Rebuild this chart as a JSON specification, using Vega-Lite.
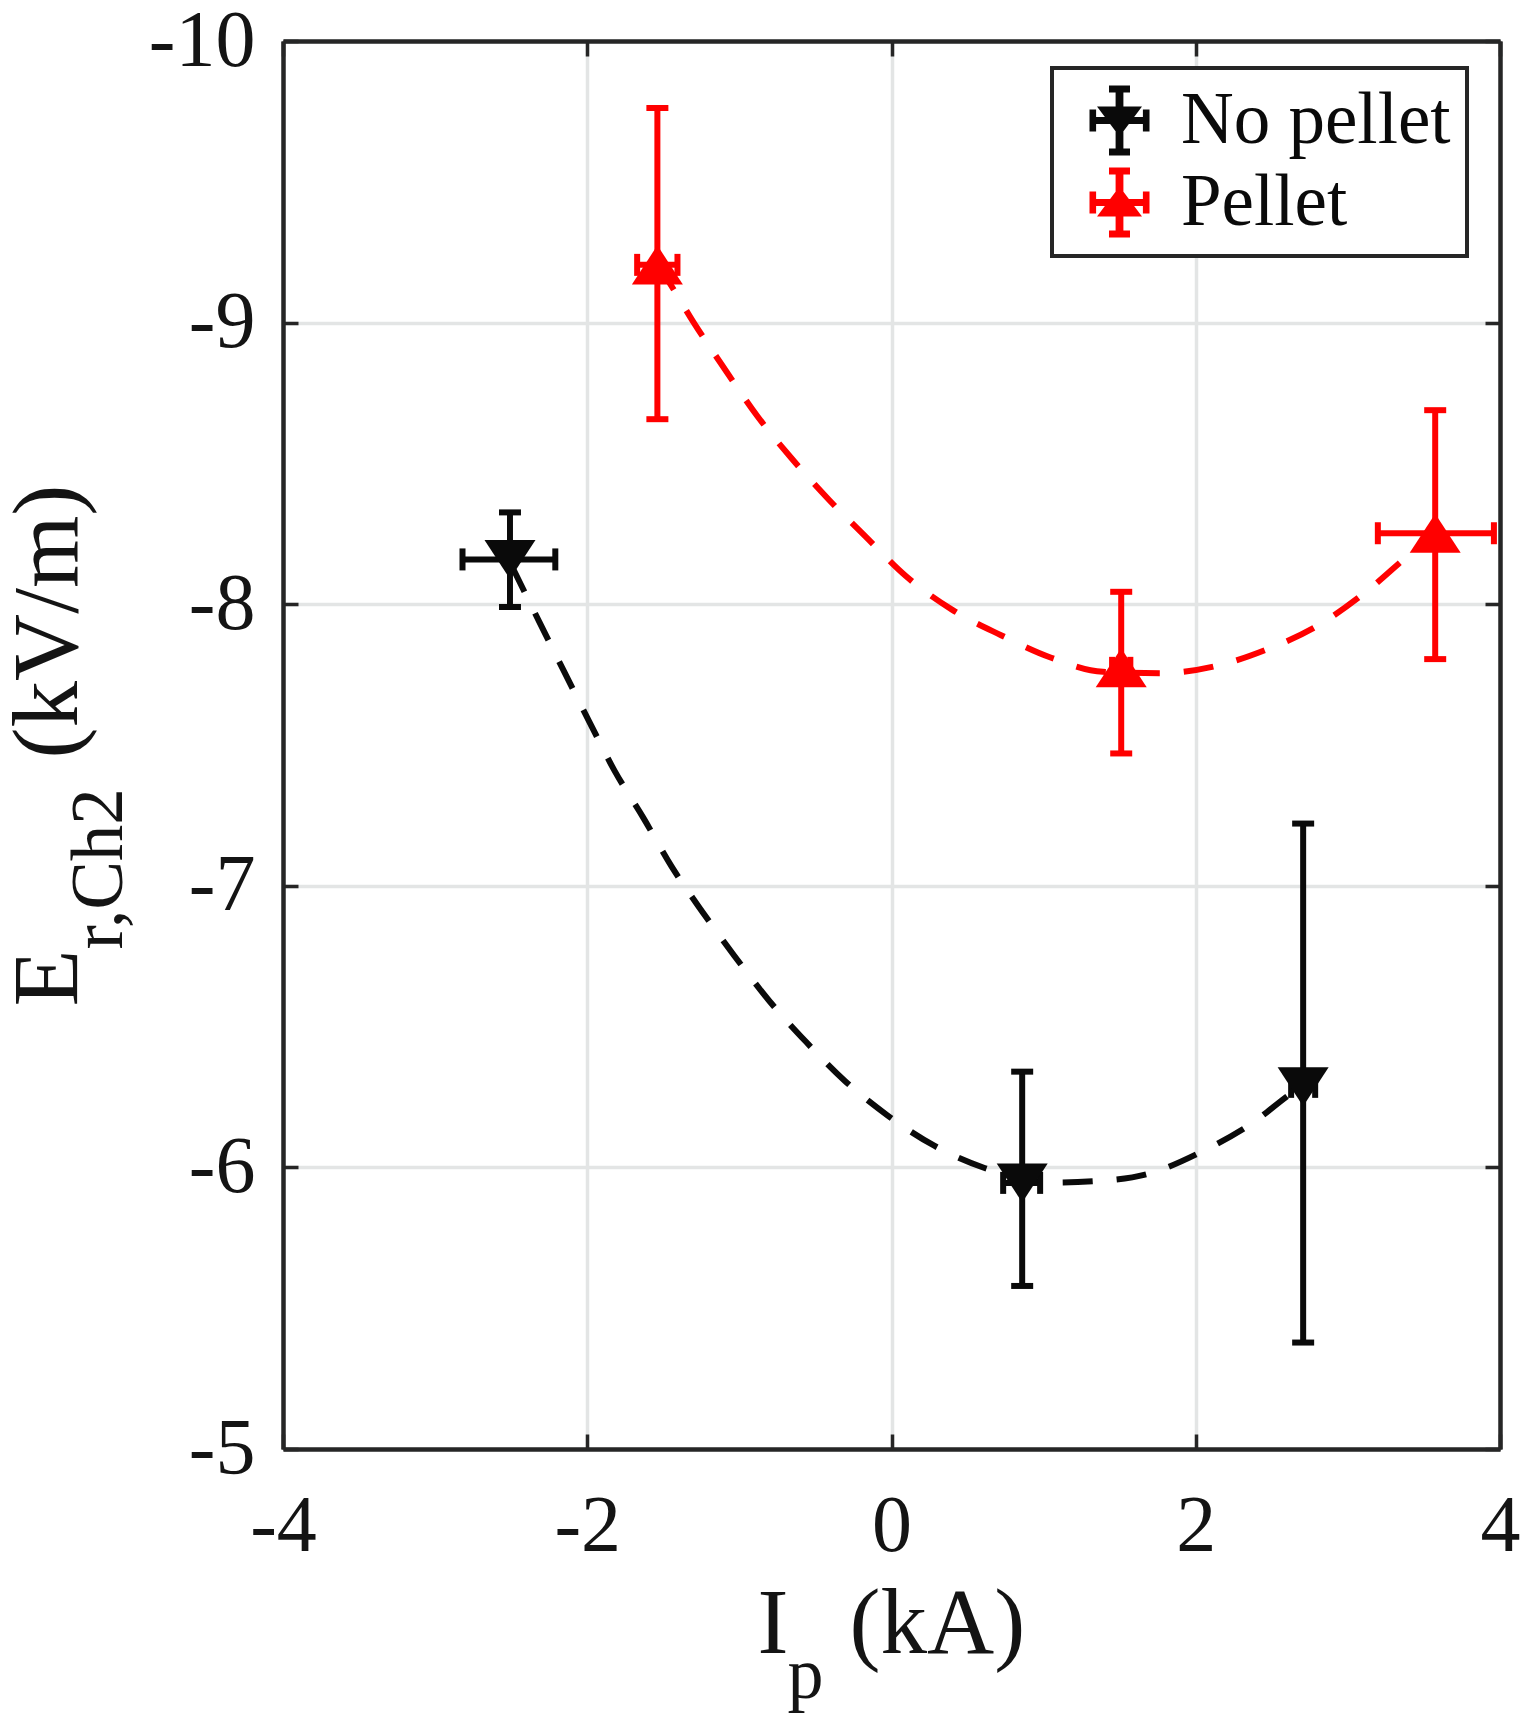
{
  "$schema": "https://vega.github.io/schema/vega-lite/v6.json",
  "width": 1217,
  "height": 1408,
  "autosize": {"type": "none"},
  "padding": {"left": 283, "top": 41, "right": 22, "bottom": 271},
  "background": "white",
  "datasets": {
    "points": [
      {"series": "No pellet", "x": -2.508, "y": -8.159, "xlo": -2.82, "xhi": -2.21, "ylo": -8.326, "yhi": -7.99},
      {"series": "No pellet", "x": 0.859, "y": -5.945, "xlo": 0.734, "xhi": 0.977, "ylo": -6.34, "yhi": -5.579},
      {"series": "No pellet", "x": 2.706, "y": -6.286, "xlo": 2.627, "xhi": 2.785, "ylo": -7.221, "yhi": -5.378},
      {"series": "Pellet", "x": -1.539, "y": -9.205, "xlo": -1.672, "xhi": -1.407, "ylo": -9.762, "yhi": -8.657},
      {"series": "Pellet", "x": 1.51, "y": -7.774, "xlo": 1.45, "xhi": 1.57, "ylo": -8.044, "yhi": -7.47},
      {"series": "Pellet", "x": 3.574, "y": -8.252, "xlo": 3.197, "xhi": 3.96, "ylo": -8.689, "yhi": -7.805}
    ],
    "fits": [
      {"series": "No pellet", "x": -2.5, "y": -8.14},
      {"series": "No pellet", "x": -2.316, "y": -7.938},
      {"series": "No pellet", "x": -2.155, "y": -7.764},
      {"series": "No pellet", "x": -1.987, "y": -7.583},
      {"series": "No pellet", "x": -1.821, "y": -7.409},
      {"series": "No pellet", "x": -1.633, "y": -7.243},
      {"series": "No pellet", "x": -1.446, "y": -7.069},
      {"series": "No pellet", "x": -1.245, "y": -6.909},
      {"series": "No pellet", "x": -1.031, "y": -6.75},
      {"series": "No pellet", "x": -0.803, "y": -6.591},
      {"series": "No pellet", "x": -0.562, "y": -6.446},
      {"series": "No pellet", "x": -0.308, "y": -6.308},
      {"series": "No pellet", "x": -0.027, "y": -6.185},
      {"series": "No pellet", "x": 0.281, "y": -6.077},
      {"series": "No pellet", "x": 0.616, "y": -5.997},
      {"series": "No pellet", "x": 1.044, "y": -5.946},
      {"series": "No pellet", "x": 1.339, "y": -5.951},
      {"series": "No pellet", "x": 1.692, "y": -5.978},
      {"series": "No pellet", "x": 2.043, "y": -6.057},
      {"series": "No pellet", "x": 2.363, "y": -6.154},
      {"series": "No pellet", "x": 2.65, "y": -6.271},
      {"series": "No pellet", "x": 2.706, "y": -6.29},
      {"series": "Pellet", "x": -1.539, "y": -9.205},
      {"series": "Pellet", "x": -1.47, "y": -9.15},
      {"series": "Pellet", "x": -1.3, "y": -9.0},
      {"series": "Pellet", "x": -1.09, "y": -8.83},
      {"series": "Pellet", "x": -0.885, "y": -8.67},
      {"series": "Pellet", "x": -0.66, "y": -8.52},
      {"series": "Pellet", "x": -0.41, "y": -8.37},
      {"series": "Pellet", "x": -0.17, "y": -8.24},
      {"series": "Pellet", "x": 0.094, "y": -8.1},
      {"series": "Pellet", "x": 0.4, "y": -7.98},
      {"series": "Pellet", "x": 0.72, "y": -7.89},
      {"series": "Pellet", "x": 1.05, "y": -7.81},
      {"series": "Pellet", "x": 1.39, "y": -7.76},
      {"series": "Pellet", "x": 1.77, "y": -7.755},
      {"series": "Pellet", "x": 2.13, "y": -7.78},
      {"series": "Pellet", "x": 2.47, "y": -7.84},
      {"series": "Pellet", "x": 2.79, "y": -7.92},
      {"series": "Pellet", "x": 3.11, "y": -8.04},
      {"series": "Pellet", "x": 3.39, "y": -8.17},
      {"series": "Pellet", "x": 3.5, "y": -8.22},
      {"series": "Pellet", "x": 3.574, "y": -8.25}
    ]
  },
  "config": {
    "view": {"stroke": null},
    "font": "Liberation Serif",
    "axis": {
      "labelFont": "Liberation Serif",
      "titleFont": "Liberation Serif",
      "titleFontWeight": "normal",
      "titleColor": "#141414",
      "titleFontSize": 93,
      "titleAlign": "left",
      "titleBaseline": "alphabetic",
      "labelColor": "#141414",
      "labelFontSize": 80,
      "labelFlush": false,
      "labelOverlap": false,
      "domainColor": "#262626",
      "domainWidth": 4.5,
      "tickColor": "#262626",
      "tickWidth": 3.5,
      "tickSize": -15,
      "gridColor": "#e3e5e5",
      "gridWidth": 3.5
    },
    "legend": {"strokeWidth": 4}
  },
  "layer": [
    {
      "layer": [
        {
          "data": {"name": "fits"},
          "mark": {"type": "line", "strokeDash": [30, 24], "strokeWidth": 6, "interpolate": "monotone"},
          "encoding": {
            "x": {
              "field": "x", "type": "quantitative",
              "scale": {"domain": [-4, 4], "nice": false, "zero": false},
              "axis": {
                "values": [-4, -2, 0, 2, 4], "grid": true,
                "labelFont": "Liberation Serif",
                "labelPadding": 116, "labelBaseline": "alphabetic",
                "labelExpr": "'' + datum.value",
                "title": "I", "titleX": 474, "titleY": 203, "titleAngle": 0
              }
            },
            "y": {
              "field": "y", "type": "quantitative",
              "scale": {"domain": [-10, -5], "reverse": true, "nice": false, "zero": false},
              "axis": {
                "values": [-10, -9, -8, -7, -6, -5], "grid": true,
                "labelFont": "Liberation Serif",
                "labelPadding": 43, "labelBaseline": "middle", "labelAlign": "right",
                "labelExpr": "'' + datum.value",
                "title": "E", "titleX": -207, "titleY": 965, "titleAngle": -90
              }
            },
            "color": {
              "field": "series", "type": "nominal",
              "scale": {"domain": ["No pellet", "Pellet"], "range": ["#0a0a0a", "#ff0000"]},
              "legend": null
            }
          }
        },
        {
          "data": {"name": "points"},
          "mark": {"type": "rule", "strokeWidth": 6},
          "encoding": {
            "x": {"field": "x", "type": "quantitative"},
            "y": {"field": "ylo", "type": "quantitative"},
            "y2": {"field": "yhi"},
            "color": {"field": "series", "type": "nominal", "legend": null}
          }
        },
        {
          "data": {"name": "points"},
          "mark": {"type": "rule", "strokeWidth": 6},
          "encoding": {
            "y": {"field": "y", "type": "quantitative"},
            "x": {"field": "xlo", "type": "quantitative"},
            "x2": {"field": "xhi"},
            "color": {"field": "series", "type": "nominal", "legend": null}
          }
        },
        {
          "data": {"name": "points"},
          "mark": {"type": "tick", "orient": "horizontal", "size": 22, "thickness": 6, "opacity": 1},
          "encoding": {
            "x": {"field": "x", "type": "quantitative"},
            "y": {"field": "ylo", "type": "quantitative"},
            "color": {"field": "series", "type": "nominal", "legend": null}
          }
        },
        {
          "data": {"name": "points"},
          "mark": {"type": "tick", "orient": "horizontal", "size": 22, "thickness": 6, "opacity": 1},
          "encoding": {
            "x": {"field": "x", "type": "quantitative"},
            "y": {"field": "yhi", "type": "quantitative"},
            "color": {"field": "series", "type": "nominal", "legend": null}
          }
        },
        {
          "data": {"name": "points"},
          "mark": {"type": "tick", "orient": "vertical", "size": 22, "thickness": 6, "opacity": 1},
          "encoding": {
            "x": {"field": "xlo", "type": "quantitative"},
            "y": {"field": "y", "type": "quantitative"},
            "color": {"field": "series", "type": "nominal", "legend": null}
          }
        },
        {
          "data": {"name": "points"},
          "mark": {"type": "tick", "orient": "vertical", "size": 22, "thickness": 6, "opacity": 1},
          "encoding": {
            "x": {"field": "xhi", "type": "quantitative"},
            "y": {"field": "y", "type": "quantitative"},
            "color": {"field": "series", "type": "nominal", "legend": null}
          }
        },
        {
          "data": {"name": "points"},
          "mark": {"type": "point", "filled": true, "size": 2601, "opacity": 1, "strokeWidth": 0},
          "encoding": {
            "x": {"field": "x", "type": "quantitative"},
            "y": {"field": "y", "type": "quantitative"},
            "color": {"field": "series", "type": "nominal", "legend": null},
            "shape": {
              "field": "series", "type": "nominal",
              "scale": {"domain": ["No pellet", "Pellet"], "range": ["M-1,-0.765L1,-0.765L0,0.765Z", "M-1,0.765L0,-0.765L1,0.765Z"]},
              "legend": null
            }
          }
        }
      ]
    },
    {
      "data": {"name": "points"},
      "mark": {"type": "point", "opacity": 0},
      "encoding": {
        "x": {
          "field": "x", "type": "quantitative",
          "scale": {"domain": [-4, 4], "nice": false, "zero": false},
          "axis": {"orient": "top", "values": [-4, -2, 0, 2, 4], "labels": false, "grid": false, "title": null}
        },
        "y": {
          "field": "y", "type": "quantitative",
          "scale": {"domain": [-10, -5], "reverse": true, "nice": false, "zero": false},
          "axis": {"orient": "right", "values": [-10, -9, -8, -7, -6, -5], "labels": false, "grid": false, "title": null}
        }
      }
    },
    {
      "data": {"name": "points"},
      "mark": {"type": "point", "opacity": 0, "filled": true},
      "encoding": {
        "x": {
          "field": "x", "type": "quantitative",
          "scale": {"domain": [-4, 4], "nice": false, "zero": false},
          "axis": {"orient": "bottom", "labels": false, "ticks": false, "domain": false, "grid": false,
                   "title": "p", "titleFontSize": 72, "titleX": 504, "titleY": 248, "titleAngle": 0}
        },
        "y": {
          "field": "y", "type": "quantitative",
          "scale": {"domain": [-10, -5], "reverse": true, "nice": false, "zero": false},
          "axis": {"orient": "left", "labels": false, "ticks": false, "domain": false, "grid": false,
                   "title": "r,Ch2", "titleFontSize": 73, "titleX": -162, "titleY": 908, "titleAngle": -90}
        },
        "color": {
          "field": "series", "type": "nominal",
          "scale": {"domain": ["No pellet", "Pellet"], "range": ["#0a0a0a", "#ff0000"]},
          "legend": {
            "title": null, "orient": "none", "legendX": 769, "legendY": 27, "direction": "vertical",
            "symbolSize": 3600, "symbolStrokeWidth": 0, "symbolOpacity": 1, "symbolOffset": 15,
            "labelFont": "Liberation Serif", "labelFontSize": 73, "labelColor": "#0a0a0a", "labelOffset": 25, "labelLimit": 0,
            "padding": 16, "rowPadding": 8, "strokeColor": "#262626", "fillColor": "#ffffff"
          }
        },
        "shape": {
          "field": "series", "type": "nominal",
          "scale": {
            "domain": ["No pellet", "Pellet"],
            "range": [
              "M-0.13,-1.17H0.13V1.17H-0.13Z M-0.35,-1.17H0.35V-0.93H-0.35Z M-0.35,0.93H0.35V1.17H-0.35Z M-1,-0.12H1V0.12H-1Z M-1,-0.37H-0.78V0.37H-1Z M0.78,-0.37H1V0.37H0.78Z M-0.75,-0.47L0.75,-0.47L0,0.53Z",
              "M-0.13,-1.17H0.13V1.17H-0.13Z M-0.35,-1.17H0.35V-0.93H-0.35Z M-0.35,0.93H0.35V1.17H-0.35Z M-1,-0.12H1V0.12H-1Z M-1,-0.37H-0.78V0.37H-1Z M0.78,-0.37H1V0.37H0.78Z M-0.75,0.47L0,-0.53L0.75,0.47Z"
            ]
          },
          "legend": {
            "title": null, "orient": "none", "legendX": 769, "legendY": 27, "direction": "vertical",
            "symbolSize": 3600, "symbolStrokeWidth": 0, "symbolOpacity": 1, "symbolOffset": 15,
            "labelFont": "Liberation Serif", "labelFontSize": 73, "labelColor": "#0a0a0a", "labelOffset": 25, "labelLimit": 0,
            "padding": 16, "rowPadding": 8, "strokeColor": "#262626", "fillColor": "#ffffff"
          }
        }
      }
    },
    {
      "data": {"name": "points"},
      "mark": {"type": "point", "opacity": 0},
      "encoding": {
        "x": {
          "field": "x", "type": "quantitative",
          "scale": {"domain": [-4, 4], "nice": false, "zero": false},
          "axis": {"orient": "bottom", "labels": false, "ticks": false, "domain": false, "grid": false,
                   "title": "(kA)", "titleX": 566, "titleY": 203, "titleAngle": 0}
        },
        "y": {
          "field": "y", "type": "quantitative",
          "scale": {"domain": [-10, -5], "reverse": true, "nice": false, "zero": false},
          "axis": {"orient": "left", "labels": false, "ticks": false, "domain": false, "grid": false,
                   "title": "(kV/m)", "titleX": -207, "titleY": 717, "titleAngle": -90}
        }
      }
    }
  ],
  "resolve": {
    "scale": {"x": "independent", "y": "independent", "color": "independent", "shape": "independent"}
  }
}
